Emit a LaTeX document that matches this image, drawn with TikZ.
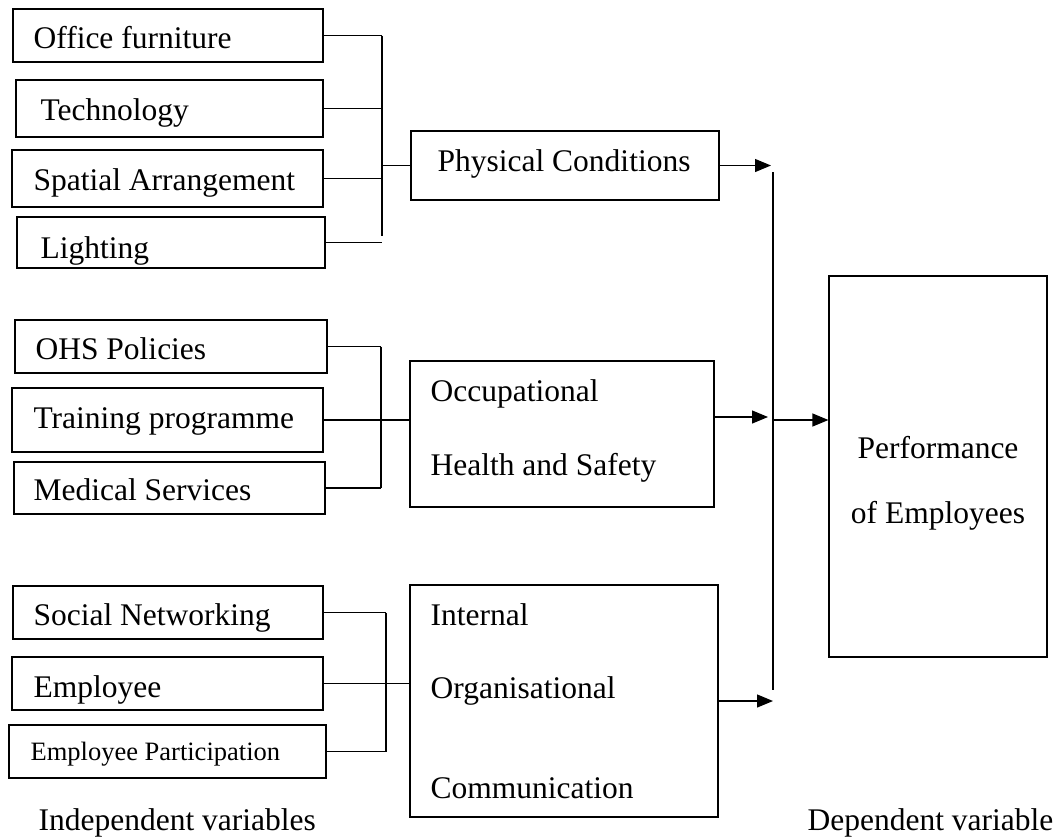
\documentclass[tikz,border=0pt]{standalone}
\usepackage{fontspec}
\setmainfont{Liberation Serif}
\usepackage{tikz}
\usetikzlibrary{fit}
\usetikzlibrary{arrows.meta}

\begin{document}
\begin{tikzpicture}[x=1pt,y=-1pt,line width=1.2pt,
  box/.style={draw,inner sep=0pt,fit={#1}},
  lbl/.style={anchor=base west,inner sep=0pt,font=\fontsize{31.5pt}{38pt}\selectfont},
  arr/.style={-{Triangle[length=16pt,width=13pt]}}]
\useasboundingbox (0,0) rectangle (1055,839);
\newcommand*{\busleft}{382}
\newcommand*{\busmain}{773}
% independent variables, one box each
\foreach \nm/\xa/\ya/\xb/\yb/\tx/\ty/\txt in {
    office/13/9/323/62/33/48/Office furniture,
    tech/16/80/323/137/40/120/Technology,
    spatial/12/150/323/207/33/190/Spatial Arrangement,
    lighting/17/217/325/268/40/258/Lighting,
    ohspol/15/320/327/373/35/359/OHS Policies,
    training/12/388/323/452/33/428/Training programme,
    medical/14/462/325/514/33/500/Medical Services,
    social/13/586/323/639/33/625/Social Networking,
    employee/12/657/323/710/33/697/Employee}
{
  \node[box={(\xa,\ya) (\xb,\yb)}] (\nm) {};
  \node[lbl] (\nm-t) at (\tx,\ty) {\txt};
}
\node[box={(9,725) (326,778)}] (partic) {};
\node[lbl,font=\fontsize{26.5pt}{32pt}\selectfont] (partic-t) at (30,760) {Employee Participation};

% grouping boxes
\node[box={(411,131) (719,200)}] (phys) {};
\node[lbl] (phys-t) at (437,171) {Physical Conditions};
\node[box={(410,361) (714,507)}] (ohs) {};
\node[lbl] (ohs-t1) at (430,401) {Occupational};
\node[lbl] (ohs-t2) at (430,475) {Health and Safety};
\node[box={(410,585) (718,817)}] (ioc) {};
\node[lbl] (ioc-t1) at (430,625) {Internal};
\node[lbl] (ioc-t2) at (430,698) {Organisational};
\node[lbl] (ioc-t3) at (430,798) {Communication};

% dependent variable
\node[box={(829,276) (1047,657)}] (perf) {};
\node[lbl,anchor=base] (perf-t1) at (938,458) {Performance};
\node[lbl,anchor=base] (perf-t2) at (938,523) {of Employees};

\node[lbl] (indep) at (38,830) {Independent variables};
\node[lbl] (dep) at (807,830) {Dependent variable};

% brackets on the left
\coordinate (busA) at (\busleft,0);
\coordinate (busB) at (381,0);
\coordinate (busC) at (386,0);
\foreach \nm in {office,tech,spatial,lighting}
  \draw (\nm.east) -- (\nm.east -| busA);
\draw (office.east -| busA) -- ([yshift=7pt]lighting.east -| busA);
\draw (phys.west -| busA) -- (phys.west);
\foreach \nm in {ohspol,training,medical}
  \draw (\nm.east) -- (\nm.east -| busB);
\draw (ohspol.east -| busB) -- (medical.east -| busB);
\draw (training.east -| busB) -- (training.east -| ohs.west);
\foreach \nm in {social,employee,partic}
  \draw (\nm.east) -- (\nm.east -| busC);
\draw (social.east -| busC) -- (partic.east -| busC);
\draw (employee.east -| busC) -- (employee.east -| ioc.west);

% main bus to performance
\coordinate (busTop) at (\busmain,172);
\coordinate (busBot) at (\busmain,690);
\coordinate (join) at (\busmain,420);
\coordinate (ohsout) at ([yshift=17pt]ohs.east);
\draw (busTop) -- (busBot);
\draw[arr,shorten >=2pt] (phys.east) -- (phys.east -| busTop);
\draw[arr,shorten >=5pt] (ohsout) -- (ohsout -| busTop);
\draw[arr] (ioc.east) -- (ioc.east -| busTop);
\draw[arr] (join) -- (join -| perf.west);
\end{tikzpicture}
\end{document}
